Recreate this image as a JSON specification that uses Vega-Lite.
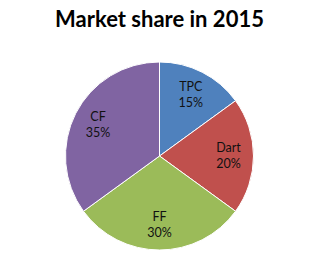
{
  "$schema": "https://vega.github.io/schema/vega-lite/v6.json",
  "autosize": "none",
  "width": 188,
  "height": 188,
  "padding": {"left": 65.5, "top": 62, "right": 78.5, "bottom": 14},
  "background": "white",
  "title": {
    "text": "Market share in 2015",
    "font": "Lato",
    "fontSize": 22,
    "fontWeight": "bold",
    "color": "#000000",
    "anchor": "middle",
    "baseline": "alphabetic",
    "offset": 11
  },
  "data": {
    "values": [
      {"company": "TPC", "share": 0.15, "order": 1},
      {"company": "Dart", "share": 0.20, "order": 2},
      {"company": "FF", "share": 0.30, "order": 3},
      {"company": "CF", "share": 0.35, "order": 4}
    ]
  },
  "encoding": {
    "theta": {"field": "share", "type": "quantitative", "stack": true},
    "order": {"field": "order", "type": "quantitative"}
  },
  "layer": [
    {
      "mark": {"type": "arc", "stroke": "white", "strokeWidth": 1},
      "encoding": {
        "color": {
          "field": "company",
          "type": "nominal",
          "scale": {"domain": ["TPC", "Dart", "FF", "CF"], "range": ["#4F81BD", "#C0504D", "#9BBB59", "#8064A2"]},
          "legend": null
        }
      }
    },
    {
      "mark": {"type": "text", "radius": 69, "dy": -8, "font": "Lato", "fontSize": 12.5, "color": "#111111"},
      "encoding": {"text": {"field": "company", "type": "nominal"}}
    },
    {
      "mark": {"type": "text", "radius": 69, "dy": 8, "font": "Lato", "fontSize": 12.5, "color": "#111111"},
      "encoding": {"text": {"field": "share", "type": "quantitative", "format": ".0%"}}
    }
  ]
}
